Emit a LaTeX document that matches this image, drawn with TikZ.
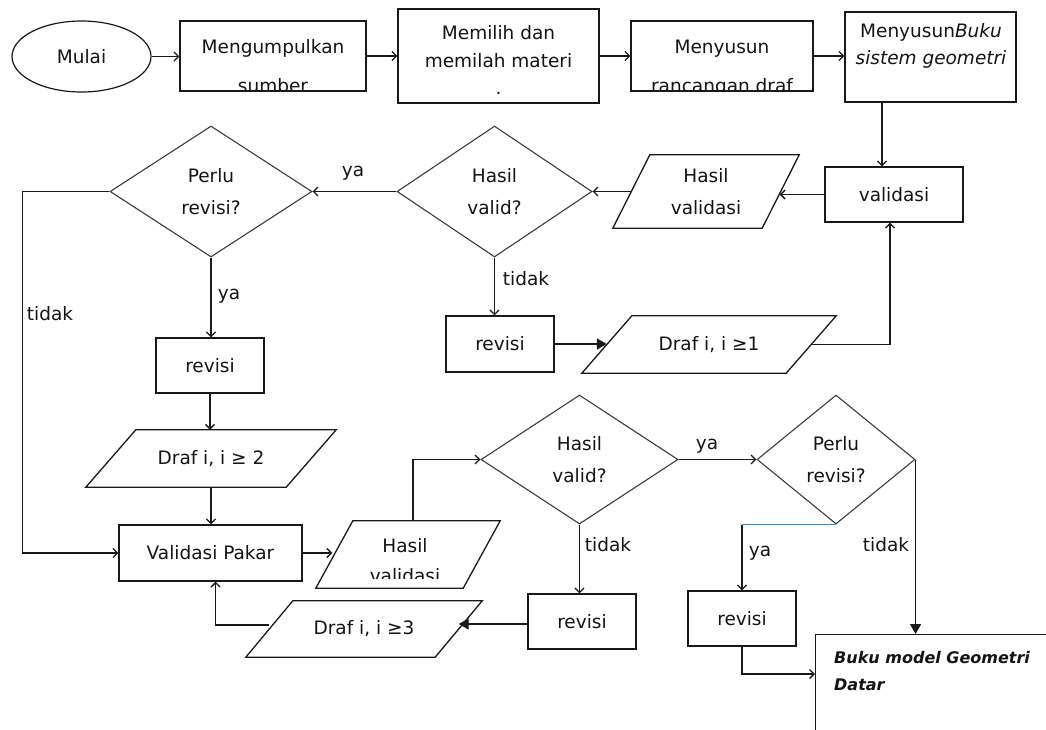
\documentclass[tikz,border=0pt]{standalone}
\usepackage{fontspec}
\setmainfont{DejaVu Sans}
\usetikzlibrary{shapes.geometric,arrows.meta}
\definecolor{txt}{RGB}{20,20,20}
\definecolor{ln}{RGB}{25,25,25}
\definecolor{dl}{RGB}{60,60,60}
\definecolor{wordblue}{RGB}{79,129,189}
\newcommand\pgshape[2]{\draw[pgline] ([xshift=#2]#1.north west) -- ([xshift=#2]#1.north east) -- ([xshift=-#2]#1.south east) -- ([xshift=-#2]#1.south west) -- cycle;}
\begin{document}
\begin{tikzpicture}[x=1pt,y=-1pt,
  every node/.style={font=\fontsize{18.5}{27}\selectfont, text=txt},
  box/.style={draw=ln, line width=1.3pt, rectangle, inner sep=0pt, align=center},
  oval/.style={draw=ln, line width=1.2pt, ellipse, inner sep=0pt, align=center},
  dec/.style={draw=dl, line width=1.1pt, diamond, inner sep=0pt, align=center},
  pgnode/.style={rectangle, inner sep=0pt, align=center},
  pgline/.style={draw=ln, line width=1.3pt, line join=miter},
  plain/.style={inner sep=0pt, align=center},
  conn/.style={draw=ln, line width=1.3pt, -{Straight Barb[length=4.5pt,width=9pt]}},
  connf/.style={draw=ln, line width=1.3pt, -{Triangle[length=10pt,width=11pt]}},
  lbl/.style={inner sep=0pt},
]
\useasboundingbox (0,0) rectangle (1046,729);

% top row
\node[oval, minimum width=139pt, minimum height=71pt] (mulai) at (81.5,56.5) {Mulai};
\node[box, minimum width=186pt, minimum height=70pt] (b1) at (273,56) {};
\begin{scope}
  \clip (b1.north west) rectangle ([yshift=2pt]b1.south east);
  \node[plain, anchor=north] (t1) at (273,38.9) {Mengumpulkan\\[12pt]sumber};
\end{scope}
\node[box, minimum width=201pt, minimum height=94pt] (b2) at (498.5,56) {};
\node[plain, anchor=north] (t2) at (498.5,24.9) {Memilih dan\\[1pt]memilah materi\\[0pt].};
\node[box, minimum width=182pt, minimum height=70pt] (b3) at (722,56) {};
\begin{scope}
  \clip (b3.north west) rectangle ([yshift=2pt]b3.south east);
  \node[plain, anchor=north] (t3) at (722,39.5) {Menyusun\\[12pt]rancangan draf};
\end{scope}
\node[box, minimum width=171pt, minimum height=90pt] (b4) at (930.5,57) {};
\node[plain, anchor=north] (t4) at (931,22.9) {Menyusun\textit{Buku}\\\textit{sistem geometri}};

% second row
\node[box, minimum width=138pt, minimum height=55pt] (val) at (894,194.5) {validasi};
\node[pgnode, minimum width=149pt, minimum height=73pt] (hv1) at (706,191.5) {Hasil\\[5pt]validasi};
\pgshape{hv1}{18.5pt}
\node[dec, minimum width=195pt, minimum height=131pt] (d1) at (494.5,191.5) {Hasil\\[5pt]valid?};
\node[dec, minimum width=202pt, minimum height=131pt] (d2) at (211,191.5) {Perlu\\[5pt]revisi?};

% third row
\node[box, minimum width=108pt, minimum height=56pt] (r1) at (500,344) {revisi};
\node[pgnode, minimum width=204pt, minimum height=57pt] (dr1) at (709,344.5) {Draf i, i ≥1};
\pgshape{dr1}{25pt}
\node[box, minimum width=108pt, minimum height=55pt] (r2) at (210,365.5) {revisi};
\node[pgnode, minimum width=200pt, minimum height=57pt] (dr2) at (211,458.5) {Draf i, i ≥ 2};
\pgshape{dr2}{25pt}
\node[box, minimum width=183pt, minimum height=56pt] (vp) at (210.5,553) {Validasi Pakar};
\node[pgnode, minimum width=147pt, minimum height=67pt] (hv2) at (408,554.5) {};
\pgshape{hv2}{18.5pt}
\begin{scope}
  \clip (300,515) rectangle (520,578);
  \node[plain, anchor=north] (t5) at (405,537.9) {Hasil\\[3pt]validasi};
\end{scope}
\node[dec, minimum width=197pt, minimum height=129pt] (d3) at (579.5,459.5) {Hasil\\[5pt]valid?};
\node[dec, minimum width=158pt, minimum height=129pt] (d4) at (836,459.5) {Perlu\\[5pt]revisi?};
\node[box, minimum width=108pt, minimum height=55pt] (r3) at (582,621.5) {revisi};
\node[pgnode, minimum width=189pt, minimum height=56pt] (dr3) at (364,629) {Draf i, i ≥3};
\pgshape{dr3}{23.5pt}
\node[box, minimum width=108pt, minimum height=55pt] (r4) at (742,618.5) {revisi};
\node[box, anchor=north west, minimum width=300pt, minimum height=150pt] (buku) at (815,634) {};
\node[plain, anchor=north west, align=left, font=\fontsize{16}{27}\selectfont\bfseries\itshape] (bt) at (834,651) {Buku model Geometri\\Datar};

% connectors top row
\draw[conn] (mulai.east) -- (mulai.east -| b1.west);
\draw[conn] (b1.east) -- (b1.east -| b2.west);
\draw[conn] (b2.east |- b3.west) -- (b3.west);
\draw[conn] (b3.east) -- (b3.east -| b4.west);
\draw[conn] ([xshift=-48.5pt]b4.south) -- ([xshift=-48.5pt]b4.south |- val.north);

% second row
\draw[conn] (val.west) -- ([xshift=-1pt]val.west -| hv1.east);
\draw[conn] (hv1.west) -- (d1.east);
\draw[conn] (d1.west) -- (d2.east);
\node[lbl] (l1) at (353,173) {ya};
\draw[conn] (d2.west) -| ([xshift=-96pt]vp.west) -- (vp.west);
\node[lbl] (l2) at (50,314) {tidak};
\draw[conn] (d2.south) -- (d2.south |- r2.north);
\node[lbl] (l3) at (229,296) {ya};
\draw[conn] (d1.south) -- (d1.south |- r1.north);
\node[lbl] (l4) at (526,279) {tidak};
\draw[connf] (r1.east) -- (r1.east -| dr1.west);
\draw[conn] (dr1.east) -| ([xshift=-4pt]val.south);

% left column
\draw[conn] (r2.south) -- (r2.south |- dr2.north);
\draw[conn] (dr2.south) -- (dr2.south |- vp.north);
\draw[conn] (vp.east) -- ([xshift=-2pt]vp.east -| hv2.west);
\draw[conn] ([xshift=5pt]hv2.north) |- (d3.west);

% bottom right
\draw[conn] (d3.east) -- (d4.west);
\node[lbl] (l5) at (707,446) {ya};
\draw[conn] (d3.south) -- (d3.south |- r3.north);
\node[lbl] (l6) at (608,545) {tidak};
\draw[connf] ([yshift=-2.5pt]r3.west) -- ([yshift=-2.5pt]r3.west -| dr3.east);
\draw[conn] ([yshift=4pt]dr3.west) -| ([xshift=5pt]vp.south);
\draw[wordblue, line width=1.1pt] (d4.south) -- (d4.south -| r4.north);
\draw[conn] (d4.south -| r4.north) -- (r4.north);
\node[lbl] (l7) at (760,553) {ya};
\draw[connf] (d4.east) -- (d4.east |- buku.north);
\node[lbl] (l8) at (886,545) {tidak};
\draw[conn] (r4.south) |- ([yshift=-40pt]buku.north west);
\end{tikzpicture}
\end{document}
